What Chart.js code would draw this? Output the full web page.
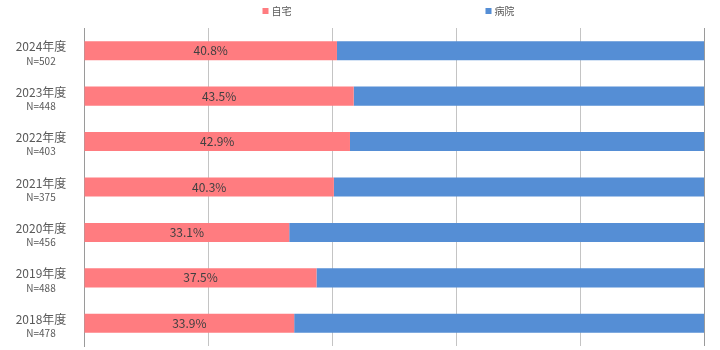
<!DOCTYPE html>
<html>
<head>
<meta charset="utf-8">
<script src="https://cdn.jsdelivr.net/npm/chart.js@4/dist/chart.umd.min.js"></script>
<style>
html,body{margin:0;padding:0;background:#fff;}
#wrap{width:720px;height:350px;}
</style>
</head>
<body>
<div id="wrap"><canvas id="c" width="720" height="350"></canvas></div>
<script>
const categories = ['2024年度','2023年度','2022年度','2021年度','2020年度','2019年度','2018年度'];
const sampleSizes = ['N=502','N=448','N=403','N=375','N=456','N=488','N=478'];
const seriesNames = ['自宅','病院'];
const homeValues = [40.8, 43.5, 42.9, 40.3, 33.1, 37.5, 33.9];
const hospitalValues = [59.2, 56.5, 57.1, 59.7, 66.9, 62.5, 66.1];
const seriesColors = ['#FF7C80', '#558ED5'];
const xTicks = [0, 20, 40, 60, 80, 100];

const FONT = '"Noto Sans CJK JP", "Noto Sans", sans-serif';

const customDraw = {
  id: 'customDraw',
  afterDatasetsDraw(chart) {
    const ctx = chart.ctx;
    const meta = chart.getDatasetMeta(0);
    ctx.save();
    ctx.fillStyle = '#404040';
    ctx.font = '12px ' + FONT;
    ctx.textAlign = 'center';
    ctx.textBaseline = 'middle';
    meta.data.forEach((el, i) => {
      const p = el.getProps(['x', 'y', 'base'], true);
      ctx.fillText(homeValues[i].toFixed(1) + '%', (p.x + p.base) / 2, p.y);
    });
    ctx.restore();
  },
  afterDraw(chart) {
    const ctx = chart.ctx;
    const yScale = chart.scales.y;
    const area = chart.chartArea;
    ctx.save();
    ctx.fillStyle = '#595959';
    ctx.textAlign = 'center';
    ctx.textBaseline = 'middle';
    const cx = area.left / 2 - 1;
    categories.forEach((c, i) => {
      const y = yScale.getPixelForTick(i);
      ctx.font = '12px ' + FONT;
      ctx.fillText(c, cx, y - 4);
      ctx.font = '10px ' + FONT;
      ctx.fillText(sampleSizes[i], cx, y + 10);
    });
    // legend
    const mid = (area.left + area.right) / 2 - 6;
    const gap = 223;
    const starts = [mid - gap / 2 - 14, mid + gap / 2 - 14];
    ctx.font = '10px ' + FONT;
    ctx.textAlign = 'left';
    seriesNames.forEach((n, i) => {
      ctx.fillStyle = seriesColors[i];
      ctx.fillRect(starts[i], 8, 6, 6);
      ctx.fillStyle = '#595959';
      ctx.fillText(n, starts[i] + 9, 11);
    });
    ctx.restore();
  }
};

new Chart(document.getElementById('c'), {
  type: 'bar',
  data: {
    labels: categories,
    datasets: [
      { label: seriesNames[0], data: homeValues, backgroundColor: seriesColors[0], borderWidth: 0 },
      { label: seriesNames[1], data: hospitalValues, backgroundColor: seriesColors[1], borderWidth: 0 }
    ]
  },
  options: {
    indexAxis: 'y',
    responsive: false,
    animation: false,
    devicePixelRatio: 1,
    layout: { padding: { top: 28, right: 16, bottom: 4, left: 0 } },
    datasets: { bar: { categoryPercentage: 1, barPercentage: 0.42 } },
    plugins: { legend: { display: false }, tooltip: { enabled: false } },
    scales: {
      x: {
        stacked: true,
        min: 0,
        max: 100,
        afterBuildTicks(scale) { scale.ticks = xTicks.map(v => ({ value: v })); },
        ticks: { display: false },
        grid: {
          drawTicks: false,
          color: (c) => (c.tick && (c.tick.value === 0 || c.tick.value === 100)) ? '#9a9a9a' : '#c4c4c4',
          lineWidth: 1
        },
        border: { display: false }
      },
      y: {
        stacked: true,
        ticks: { display: false },
        grid: { display: false, drawTicks: false },
        border: { display: true, color: '#9a9a9a' },
        afterFit(scale) { scale.width = 84; }
      }
    }
  },
  plugins: [customDraw]
});
</script>
</body>
</html>
